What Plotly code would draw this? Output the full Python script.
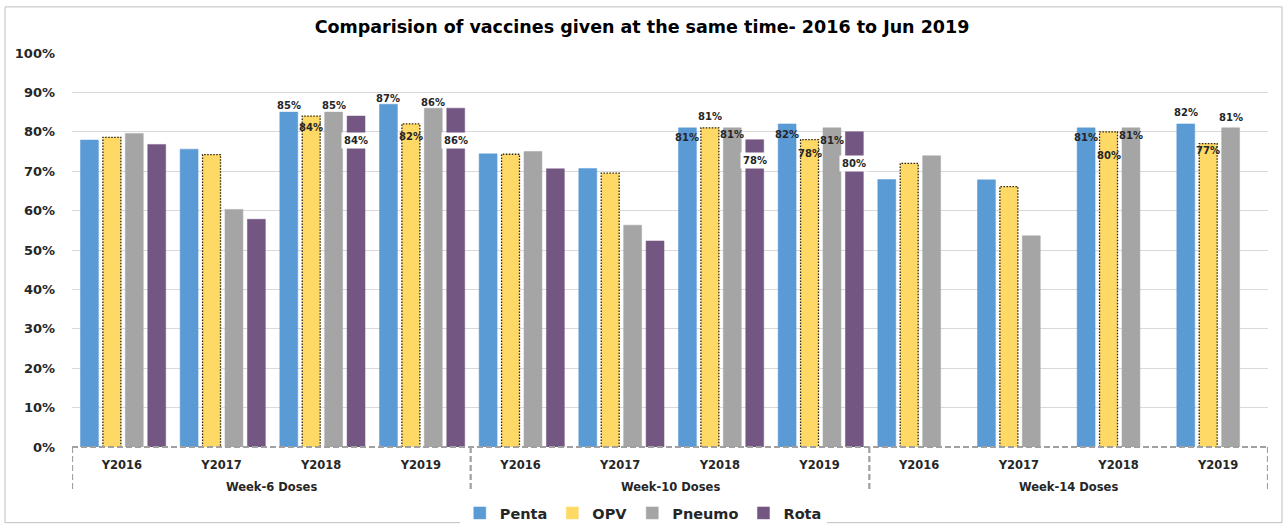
import plotly.graph_objects as go

# Dose groups and reporting years (one entry per x category)
groups = ["Week-6 Doses", "Week-10 Doses", "Week-14 Doses"]
years = ["Y2016", "Y2017", "Y2018", "Y2019"]

# Coverage (%) per category, in group order then year order
penta = [77.9, 75.6, 85, 87, 74.4, 70.7, 81, 82, 67.9, 67.8, 81, 82]
opv = [78.6, 74.2, 84, 82, 74.3, 69.5, 81, 78, 72.0, 66.1, 80, 77]
pneumo = [79.6, 60.3, 85, 86, 75.0, 56.3, 81, 81, 73.9, 53.6, 81, 81]
rota = [76.8, 57.8, 84, 86, 70.6, 52.3, 78, 80, None, None, None, None]

series = [
    ("Penta", penta, "#5B9BD5"),
    ("OPV", opv, "#FFD966"),
    ("Pneumo", pneumo, "#A5A5A5"),
    ("Rota", rota, "#735681"),
]

# Vertical offset (px, downward from bar top) of each data label
label_shift = {
    "Penta": {2: -7, 3: -6, 6: 10, 7: 11, 10: 10, 11: -11},
    "OPV": {2: 11, 3: 13, 6: -11, 7: 14, 10: 24, 11: 7},
    "Pneumo": {2: -7, 3: -6, 6: 7, 7: 13, 10: 8, 11: -10},
    "Rota": {2: 24, 3: 32, 6: 21, 7: 32},
}
boxed_labels = {"Rota"}

FONT = "DejaVu Sans"
BAR_W = 0.18
SLOT = 0.225
FIRST = -0.415

n_years = len(years)
xs = list(range(len(groups) * n_years))
tick_text = years * len(groups)

fig = go.Figure()
annotations = []

for k, (name, vals, color) in enumerate(series):
    off = FIRST + SLOT * k
    fig.add_trace(go.Bar(
        name=name, x=xs, y=vals, width=BAR_W, offset=off,
        marker=dict(color=color, line=dict(color=color, width=0.5)),
    ))
    if name == "OPV":
        # dotted outline around each OPV bar
        ox, oy = [], []
        for i, v in zip(xs, vals):
            if v is None:
                continue
            x0, x1 = i + off, i + off + BAR_W
            ox += [x0, x0, x1, x1, None]
            oy += [0, v, v, 0, None]
        fig.add_trace(go.Scatter(
            x=ox, y=oy, mode="lines", showlegend=False, hoverinfo="skip",
            line=dict(color="#262626", width=1.3, dash="1.5px,1.5px"),
        ))
    for i, shift in label_shift.get(name, {}).items():
        v = vals[i]
        annotations.append(dict(
            x=i + off + BAR_W / 2, y=v, xref="x", yref="y",
            text=f"{round(v)}%", showarrow=False, yanchor="middle",
            yshift=-shift,
            font=dict(family=FONT, size=10, color="#262626", weight="bold"),
            bgcolor="white" if name in boxed_labels else None,
            borderpad=2,
        ))

# Group captions under the year labels
for g, label in enumerate(groups):
    annotations.append(dict(
        x=g * n_years + (n_years - 1) / 2, y=-0.102, xref="x", yref="paper",
        text=label, showarrow=False, yanchor="middle",
        font=dict(family=FONT, size=11.5, color="#262626", weight="bold"),
    ))

# Dashed category bracket: baseline plus group separators
DASH = dict(color="#A0A0A0", width=2.2, dash="6px,3px")
shapes = [dict(type="line", xref="paper", yref="paper", x0=0, x1=1, y0=0, y1=0,
               line=DASH, layer="above")]
for g in range(len(groups) + 1):
    xb = g * n_years - 0.5
    shapes.append(dict(type="line", xref="x", yref="paper", x0=xb, x1=xb,
                       y0=0, y1=-0.114, line=DASH))
# Outer chart border
shapes.append(dict(type="rect", xref="paper", yref="paper",
                   x0=-0.056, x1=1.0117, y0=-0.192, y1=1.117,
                   line=dict(color="#BFBFBF", width=1)))

fig.update_layout(
    width=1284, height=527,
    margin=dict(l=72, r=16, t=53, b=80, autoexpand=False),
    paper_bgcolor="white", plot_bgcolor="white",
    barmode="group",
    title=dict(text="Comparision of vaccines given at the same time- 2016 to Jun 2019",
               x=0.5, xref="container", y=1 - 27 / 527, yref="container",
               xanchor="center", yanchor="middle",
               font=dict(family=FONT, size=17.5, color="#000000", weight="bold")),
    xaxis=dict(range=[-0.5, len(xs) - 0.5], tickvals=xs, ticktext=tick_text,
               showgrid=False, zeroline=False, showline=False, ticks="",
               ticklabelstandoff=9, automargin=False,
               tickfont=dict(family=FONT, size=11.5, color="#262626", weight="bold")),
    yaxis=dict(range=[0, 100], dtick=10, ticksuffix="%", showgrid=True,
               gridcolor="#D9D9D9", gridwidth=1, zeroline=False, showline=False,
               ticklabelstandoff=16, automargin=False,
               tickfont=dict(family=FONT, size=13, color="#262626", weight="bold")),
    legend=dict(orientation="h", x=0.501, xref="container", xanchor="center",
                y=1 - 513 / 527, yref="container", yanchor="middle",
                font=dict(family=FONT, size=14.5, color="#262626", weight="bold"),
                itemwidth=30, traceorder="normal"),
    annotations=annotations,
    shapes=shapes,
    showlegend=True,
)

fig.write_html("out.html")
